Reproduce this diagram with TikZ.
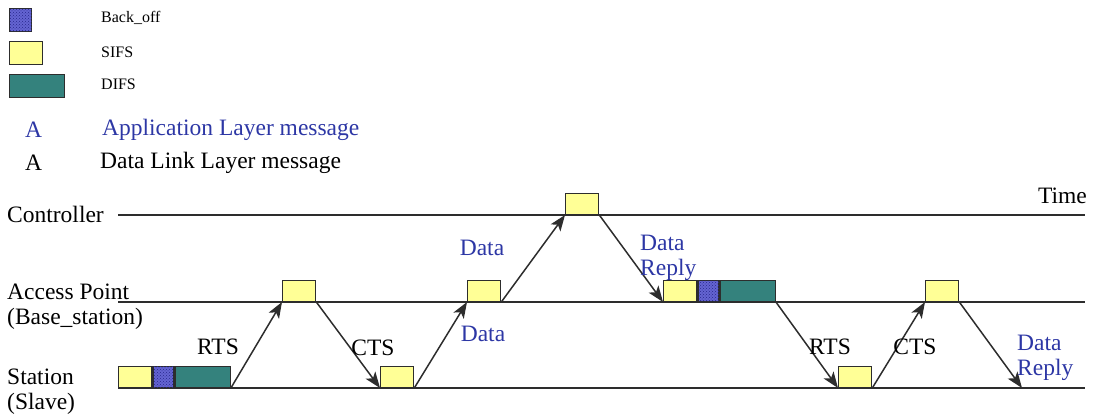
\documentclass[tikz,border=0pt]{standalone}
\usepackage{fontspec}
\setmainfont{Liberation Serif}
\usetikzlibrary{arrows.meta,positioning,patterns}

\definecolor{sifsyellow}{RGB}{255,255,150}
\definecolor{difsteal}{RGB}{52,130,125}
\definecolor{bofblue}{RGB}{100,100,210}
\definecolor{bofdot}{RGB}{40,40,140}
\definecolor{appblue}{RGB}{45,55,165}
\definecolor{linegray}{RGB}{45,45,45}

\begin{document}
\begin{tikzpicture}[
  x=1pt, y=-1pt,
  every node/.style={font=\fontsize{23.5}{25}\selectfont, inner sep=1pt},
  slot/.style={draw=linegray, line width=1.3pt, minimum height=21pt,
    inner sep=0pt, anchor=south west},
  sifs/.style={slot, fill=sifsyellow, minimum width=33pt},
  backoff/.style={slot, fill=bofblue, minimum width=21pt,
    postaction={pattern=crosshatch dots, pattern color=bofdot}},
  difs/.style={slot, fill=difsteal, minimum width=55pt},
  timeline/.style={line width=1.5pt, linegray},
  msg/.style={-{Stealth[length=16pt,width=12pt,inset=4pt]}, line width=1.5pt, linegray},
  app/.style={text=appblue},
  small/.style={font=\fontsize{16}{18}\selectfont}
]
  \useasboundingbox (0,0) rectangle (1094,419);

  % legend
  \node[backoff, minimum height=23pt, minimum width=22pt] (lgbo) at (9,32) {};
  \node[sifs, minimum height=23pt] (lgsifs) at (9,65) {};
  \node[difs, minimum height=23pt] (lgdifs) at (9,98) {};
  \node[small, anchor=west] at (100,18) {Back\_off};
  \node[small, anchor=west] at (100,52) {SIFS};
  \node[small, anchor=west] at (100,84) {DIFS};
  \node[app, anchor=west] at (24,130) {A};
  \node[app, anchor=west] (lgapp) at (101,130) {Application Layer message};
  \node[anchor=west] at (24,163) {A};
  \node[anchor=west] (lgdll) at (99,163) {Data Link Layer message};

  % time lines
  \coordinate (ctl0) at (118,215);
  \coordinate (ctl1) at (1085,215);
  \coordinate (ap0) at (118,302);
  \coordinate (ap1) at (1085,302);
  \coordinate (sta0) at (118,388);
  \coordinate (sta1) at (1085,388);
  \draw[timeline] (ctl0) -- (ctl1);
  \draw[timeline] (ap0) -- (ap1);
  \draw[timeline] (sta0) -- (sta1);

  \node[anchor=west] (ctl) at (6,214) {Controller};
  \node[anchor=east] (time) at (1088,196) {Time};
  \node[anchor=north west, align=left] (ap) at (6,283) {Access Point\\(Base\_station)};
  \node[anchor=north west, align=left] (sta) at (6,368) {Station\\(Slave)};

  % slots
  \node[sifs] (st1) at (118,388) {};
  \node[backoff, right=0pt of st1] (stbo) {};
  \node[difs, right=0pt of stbo] (stdifs) {};
  \node[sifs] (ap1s) at (282,302) {};
  \node[sifs] (st2) at (380,388) {};
  \node[sifs] (ap2s) at (467,302) {};
  \node[sifs] (ctls) at (565,215) {};
  \node[sifs] (ap3s) at (663,302) {};
  \node[backoff, right=0pt of ap3s] (apbo) {};
  \node[difs, right=0pt of apbo] (apdifs) {};
  \node[sifs] (st3) at (838,388) {};
  \node[sifs] (ap4s) at (925,302) {};
  \coordinate (end) at (1022,388);

  % messages
  \draw[msg] (stdifs.south east) -- (ap1s.south west);
  \draw[msg] (ap1s.south east) -- (st2.south west);
  \draw[msg] (st2.south east) -- (ap2s.south west);
  \draw[msg] (ap2s.south east) -- (ctls.south west);
  \draw[msg] (ctls.south east) -- (ap3s.south west);
  \draw[msg] (apdifs.south east) -- (st3.south west);
  \draw[msg] (st3.south east) -- (ap4s.south west);
  \draw[msg] (ap4s.south east) -- (end);

  % labels
  \node (rts1) at (218,347) {RTS};
  \node (cts1) at (373,348) {CTS};
  \node[app] (data1) at (483,334) {Data};
  \node[app] (data2) at (482,248) {Data};
  \node[app, anchor=west, align=left] (reply1) at (639,258) {Data\\Reply};
  \node (rts2) at (830,347) {RTS};
  \node (cts2) at (915,347) {CTS};
  \node[app, anchor=west, align=left] (reply2) at (1016,358) {Data\\Reply};
\end{tikzpicture}
\end{document}
